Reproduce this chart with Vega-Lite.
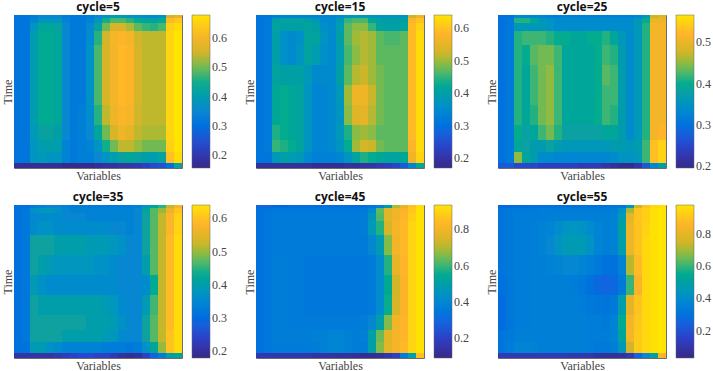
{"$schema":"https://vega.github.io/schema/vega-lite/v6.json","padding":0,"background":"white","bounds":"flush","spacing":{"row":37,"column":74},"columns":3,"resolve":{"scale":{"color":"independent"}},"config":{"view":{"stroke":"#6b6b6b","strokeWidth":1},"title":{"font":"Open Sans","fontSize":12,"fontWeight":"bold","color":"#111","offset":1},"axis":{"labels":false,"ticks":false,"domain":false,"grid":false,"titleFont":"Liberation Serif","titleFontSize":12,"titleFontWeight":"normal","titleColor":"#444"},"axisX":{"titlePadding":2},"axisY":{"titlePadding":0},"legend":{"orient":"right","offset":10,"gradientLength":153,"gradientThickness":18,"labelFont":"Liberation Serif","labelFontSize":12,"labelColor":"#444","title":null,"gradientStrokeColor":"#666","gradientStrokeWidth":0.5,"labelOffset":6}},"datasets":{"rows":[{"r":1,"t":0,"u":3},{"r":2,"t":3,"u":8},{"r":3,"t":8,"u":16},{"r":4,"t":16,"u":30},{"r":5,"t":30,"u":50},{"r":6,"t":50,"u":70},{"r":7,"t":70,"u":90},{"r":8,"t":90,"u":110},{"r":9,"t":110,"u":125},{"r":10,"t":125,"u":137},{"r":11,"t":137,"u":148},{"r":12,"t":148,"u":153}]},"concat":[{"title":"cycle=5","width":168,"height":153,"data":{"values":[
{"x":1,"y":1,"v":0.31},{"x":2,"y":1,"v":0.31},{"x":3,"y":1,"v":0.33},{"x":4,"y":1,"v":0.35},{"x":5,"y":1,"v":0.35},{"x":6,"y":1,"v":0.35},{"x":7,"y":1,"v":0.33},{"x":8,"y":1,"v":0.32},{"x":9,"y":1,"v":0.32},{"x":10,"y":1,"v":0.33},{"x":11,"y":1,"v":0.35},{"x":12,"y":1,"v":0.38},{"x":13,"y":1,"v":0.40},{"x":14,"y":1,"v":0.40},{"x":15,"y":1,"v":0.38},{"x":16,"y":1,"v":0.37},{"x":17,"y":1,"v":0.36},{"x":18,"y":1,"v":0.36},{"x":19,"y":1,"v":0.38},{"x":20,"y":1,"v":0.55},{"x":21,"y":1,"v":0.58},
{"x":1,"y":2,"v":0.31},{"x":2,"y":2,"v":0.31},{"x":3,"y":2,"v":0.34},{"x":4,"y":2,"v":0.38},{"x":5,"y":2,"v":0.38},{"x":6,"y":2,"v":0.38},{"x":7,"y":2,"v":0.34},{"x":8,"y":2,"v":0.32},{"x":9,"y":2,"v":0.32},{"x":10,"y":2,"v":0.34},{"x":11,"y":2,"v":0.38},{"x":12,"y":2,"v":0.45},{"x":13,"y":2,"v":0.48},{"x":14,"y":2,"v":0.48},{"x":15,"y":2,"v":0.46},{"x":16,"y":2,"v":0.44},{"x":17,"y":2,"v":0.43},{"x":18,"y":2,"v":0.42},{"x":19,"y":2,"v":0.44},{"x":20,"y":2,"v":0.62},{"x":21,"y":2,"v":0.64},
{"x":1,"y":3,"v":0.31},{"x":2,"y":3,"v":0.31},{"x":3,"y":3,"v":0.38},{"x":4,"y":3,"v":0.43},{"x":5,"y":3,"v":0.43},{"x":6,"y":3,"v":0.42},{"x":7,"y":3,"v":0.35},{"x":8,"y":3,"v":0.32},{"x":9,"y":3,"v":0.32},{"x":10,"y":3,"v":0.35},{"x":11,"y":3,"v":0.42},{"x":12,"y":3,"v":0.50},{"x":13,"y":3,"v":0.56},{"x":14,"y":3,"v":0.56},{"x":15,"y":3,"v":0.53},{"x":16,"y":3,"v":0.49},{"x":17,"y":3,"v":0.47},{"x":18,"y":3,"v":0.46},{"x":19,"y":3,"v":0.48},{"x":20,"y":3,"v":0.65},{"x":21,"y":3,"v":0.67},
{"x":1,"y":4,"v":0.31},{"x":2,"y":4,"v":0.31},{"x":3,"y":4,"v":0.40},{"x":4,"y":4,"v":0.44},{"x":5,"y":4,"v":0.44},{"x":6,"y":4,"v":0.43},{"x":7,"y":4,"v":0.35},{"x":8,"y":4,"v":0.32},{"x":9,"y":4,"v":0.32},{"x":10,"y":4,"v":0.36},{"x":11,"y":4,"v":0.46},{"x":12,"y":4,"v":0.55},{"x":13,"y":4,"v":0.60},{"x":14,"y":4,"v":0.61},{"x":15,"y":4,"v":0.60},{"x":16,"y":4,"v":0.55},{"x":17,"y":4,"v":0.54},{"x":18,"y":4,"v":0.54},{"x":19,"y":4,"v":0.54},{"x":20,"y":4,"v":0.66},{"x":21,"y":4,"v":0.68},
{"x":1,"y":5,"v":0.31},{"x":2,"y":5,"v":0.31},{"x":3,"y":5,"v":0.40},{"x":4,"y":5,"v":0.44},{"x":5,"y":5,"v":0.44},{"x":6,"y":5,"v":0.43},{"x":7,"y":5,"v":0.35},{"x":8,"y":5,"v":0.32},{"x":9,"y":5,"v":0.32},{"x":10,"y":5,"v":0.37},{"x":11,"y":5,"v":0.48},{"x":12,"y":5,"v":0.56},{"x":13,"y":5,"v":0.60},{"x":14,"y":5,"v":0.62},{"x":15,"y":5,"v":0.61},{"x":16,"y":5,"v":0.56},{"x":17,"y":5,"v":0.54},{"x":18,"y":5,"v":0.54},{"x":19,"y":5,"v":0.54},{"x":20,"y":5,"v":0.66},{"x":21,"y":5,"v":0.68},
{"x":1,"y":6,"v":0.31},{"x":2,"y":6,"v":0.31},{"x":3,"y":6,"v":0.40},{"x":4,"y":6,"v":0.44},{"x":5,"y":6,"v":0.44},{"x":6,"y":6,"v":0.43},{"x":7,"y":6,"v":0.35},{"x":8,"y":6,"v":0.32},{"x":9,"y":6,"v":0.32},{"x":10,"y":6,"v":0.37},{"x":11,"y":6,"v":0.48},{"x":12,"y":6,"v":0.56},{"x":13,"y":6,"v":0.60},{"x":14,"y":6,"v":0.62},{"x":15,"y":6,"v":0.61},{"x":16,"y":6,"v":0.56},{"x":17,"y":6,"v":0.54},{"x":18,"y":6,"v":0.54},{"x":19,"y":6,"v":0.54},{"x":20,"y":6,"v":0.66},{"x":21,"y":6,"v":0.68},
{"x":1,"y":7,"v":0.31},{"x":2,"y":7,"v":0.31},{"x":3,"y":7,"v":0.40},{"x":4,"y":7,"v":0.44},{"x":5,"y":7,"v":0.44},{"x":6,"y":7,"v":0.43},{"x":7,"y":7,"v":0.35},{"x":8,"y":7,"v":0.32},{"x":9,"y":7,"v":0.32},{"x":10,"y":7,"v":0.37},{"x":11,"y":7,"v":0.48},{"x":12,"y":7,"v":0.56},{"x":13,"y":7,"v":0.60},{"x":14,"y":7,"v":0.62},{"x":15,"y":7,"v":0.61},{"x":16,"y":7,"v":0.56},{"x":17,"y":7,"v":0.54},{"x":18,"y":7,"v":0.54},{"x":19,"y":7,"v":0.54},{"x":20,"y":7,"v":0.66},{"x":21,"y":7,"v":0.68},
{"x":1,"y":8,"v":0.31},{"x":2,"y":8,"v":0.31},{"x":3,"y":8,"v":0.40},{"x":4,"y":8,"v":0.44},{"x":5,"y":8,"v":0.44},{"x":6,"y":8,"v":0.43},{"x":7,"y":8,"v":0.35},{"x":8,"y":8,"v":0.32},{"x":9,"y":8,"v":0.33},{"x":10,"y":8,"v":0.36},{"x":11,"y":8,"v":0.46},{"x":12,"y":8,"v":0.54},{"x":13,"y":8,"v":0.59},{"x":14,"y":8,"v":0.61},{"x":15,"y":8,"v":0.60},{"x":16,"y":8,"v":0.55},{"x":17,"y":8,"v":0.54},{"x":18,"y":8,"v":0.54},{"x":19,"y":8,"v":0.54},{"x":20,"y":8,"v":0.66},{"x":21,"y":8,"v":0.68},
{"x":1,"y":9,"v":0.31},{"x":2,"y":9,"v":0.31},{"x":3,"y":9,"v":0.39},{"x":4,"y":9,"v":0.42},{"x":5,"y":9,"v":0.42},{"x":6,"y":9,"v":0.41},{"x":7,"y":9,"v":0.35},{"x":8,"y":9,"v":0.32},{"x":9,"y":9,"v":0.33},{"x":10,"y":9,"v":0.35},{"x":11,"y":9,"v":0.43},{"x":12,"y":9,"v":0.50},{"x":13,"y":9,"v":0.56},{"x":14,"y":9,"v":0.59},{"x":15,"y":9,"v":0.58},{"x":16,"y":9,"v":0.54},{"x":17,"y":9,"v":0.53},{"x":18,"y":9,"v":0.53},{"x":19,"y":9,"v":0.53},{"x":20,"y":9,"v":0.66},{"x":21,"y":9,"v":0.68},
{"x":1,"y":10,"v":0.31},{"x":2,"y":10,"v":0.31},{"x":3,"y":10,"v":0.38},{"x":4,"y":10,"v":0.40},{"x":5,"y":10,"v":0.41},{"x":6,"y":10,"v":0.40},{"x":7,"y":10,"v":0.34},{"x":8,"y":10,"v":0.32},{"x":9,"y":10,"v":0.33},{"x":10,"y":10,"v":0.34},{"x":11,"y":10,"v":0.38},{"x":12,"y":10,"v":0.45},{"x":13,"y":10,"v":0.50},{"x":14,"y":10,"v":0.54},{"x":15,"y":10,"v":0.54},{"x":16,"y":10,"v":0.52},{"x":17,"y":10,"v":0.50},{"x":18,"y":10,"v":0.50},{"x":19,"y":10,"v":0.50},{"x":20,"y":10,"v":0.65},{"x":21,"y":10,"v":0.68},
{"x":1,"y":11,"v":0.31},{"x":2,"y":11,"v":0.31},{"x":3,"y":11,"v":0.38},{"x":4,"y":11,"v":0.39},{"x":5,"y":11,"v":0.38},{"x":6,"y":11,"v":0.38},{"x":7,"y":11,"v":0.34},{"x":8,"y":11,"v":0.32},{"x":9,"y":11,"v":0.33},{"x":10,"y":11,"v":0.33},{"x":11,"y":11,"v":0.35},{"x":12,"y":11,"v":0.38},{"x":13,"y":11,"v":0.40},{"x":14,"y":11,"v":0.42},{"x":15,"y":11,"v":0.43},{"x":16,"y":11,"v":0.42},{"x":17,"y":11,"v":0.41},{"x":18,"y":11,"v":0.40},{"x":19,"y":11,"v":0.42},{"x":20,"y":11,"v":0.63},{"x":21,"y":11,"v":0.67},
{"x":1,"y":12,"v":0.17},{"x":2,"y":12,"v":0.17},{"x":3,"y":12,"v":0.17},{"x":4,"y":12,"v":0.17},{"x":5,"y":12,"v":0.17},{"x":6,"y":12,"v":0.17},{"x":7,"y":12,"v":0.16},{"x":8,"y":12,"v":0.16},{"x":9,"y":12,"v":0.16},{"x":10,"y":12,"v":0.16},{"x":11,"y":12,"v":0.17},{"x":12,"y":12,"v":0.18},{"x":13,"y":12,"v":0.18},{"x":14,"y":12,"v":0.19},{"x":15,"y":12,"v":0.19},{"x":16,"y":12,"v":0.20},{"x":17,"y":12,"v":0.22},{"x":18,"y":12,"v":0.24},{"x":19,"y":12,"v":0.25},{"x":20,"y":12,"v":0.30},{"x":21,"y":12,"v":0.42}
]},"transform":[{"lookup":"y","from":{"data":{"name":"rows"},"key":"r","fields":["t","u"]}}],"mark":{"type":"rect"},"encoding":{"x":{"field":"x","type":"ordinal","title":"Variables","scale":{"paddingInner":0,"paddingOuter":0}},"y":{"field":"t","type":"quantitative","title":"Time","scale":{"domain":[153,0],"nice":false,"zero":false}},"y2":{"field":"u"},"color":{"field":"v","type":"quantitative","scale":{"domain":[0.155,0.68],"range":["#352a87","#2c3fc5","#0f68e0","#0f88d0","#0fa0a0","#4fb868","#d0b52a","#ffb42a","#ffe400"]},"legend":{"values":[0.2,0.3,0.4,0.5,0.6]}}}},{"title":"cycle=15","width":168,"height":153,"data":{"values":[
{"x":1,"y":1,"v":0.31},{"x":2,"y":1,"v":0.31},{"x":3,"y":1,"v":0.33},{"x":4,"y":1,"v":0.34},{"x":5,"y":1,"v":0.34},{"x":6,"y":1,"v":0.34},{"x":7,"y":1,"v":0.34},{"x":8,"y":1,"v":0.34},{"x":9,"y":1,"v":0.34},{"x":10,"y":1,"v":0.34},{"x":11,"y":1,"v":0.35},{"x":12,"y":1,"v":0.37},{"x":13,"y":1,"v":0.38},{"x":14,"y":1,"v":0.38},{"x":15,"y":1,"v":0.37},{"x":16,"y":1,"v":0.37},{"x":17,"y":1,"v":0.37},{"x":18,"y":1,"v":0.37},{"x":19,"y":1,"v":0.37},{"x":20,"y":1,"v":0.52},{"x":21,"y":1,"v":0.56},
{"x":1,"y":2,"v":0.31},{"x":2,"y":2,"v":0.32},{"x":3,"y":2,"v":0.40},{"x":4,"y":2,"v":0.41},{"x":5,"y":2,"v":0.41},{"x":6,"y":2,"v":0.41},{"x":7,"y":2,"v":0.40},{"x":8,"y":2,"v":0.38},{"x":9,"y":2,"v":0.35},{"x":10,"y":2,"v":0.35},{"x":11,"y":2,"v":0.38},{"x":12,"y":2,"v":0.45},{"x":13,"y":2,"v":0.46},{"x":14,"y":2,"v":0.46},{"x":15,"y":2,"v":0.42},{"x":16,"y":2,"v":0.40},{"x":17,"y":2,"v":0.40},{"x":18,"y":2,"v":0.40},{"x":19,"y":2,"v":0.40},{"x":20,"y":2,"v":0.58},{"x":21,"y":2,"v":0.60},
{"x":1,"y":3,"v":0.31},{"x":2,"y":3,"v":0.32},{"x":3,"y":3,"v":0.41},{"x":4,"y":3,"v":0.40},{"x":5,"y":3,"v":0.40},{"x":6,"y":3,"v":0.40},{"x":7,"y":3,"v":0.41},{"x":8,"y":3,"v":0.40},{"x":9,"y":3,"v":0.36},{"x":10,"y":3,"v":0.35},{"x":11,"y":3,"v":0.39},{"x":12,"y":3,"v":0.47},{"x":13,"y":3,"v":0.49},{"x":14,"y":3,"v":0.49},{"x":15,"y":3,"v":0.45},{"x":16,"y":3,"v":0.41},{"x":17,"y":3,"v":0.40},{"x":18,"y":3,"v":0.40},{"x":19,"y":3,"v":0.41},{"x":20,"y":3,"v":0.59},{"x":21,"y":3,"v":0.62},
{"x":1,"y":4,"v":0.31},{"x":2,"y":4,"v":0.32},{"x":3,"y":4,"v":0.40},{"x":4,"y":4,"v":0.36},{"x":5,"y":4,"v":0.35},{"x":6,"y":4,"v":0.36},{"x":7,"y":4,"v":0.41},{"x":8,"y":4,"v":0.41},{"x":9,"y":4,"v":0.37},{"x":10,"y":4,"v":0.35},{"x":11,"y":4,"v":0.40},{"x":12,"y":4,"v":0.47},{"x":13,"y":4,"v":0.50},{"x":14,"y":4,"v":0.51},{"x":15,"y":4,"v":0.50},{"x":16,"y":4,"v":0.47},{"x":17,"y":4,"v":0.46},{"x":18,"y":4,"v":0.46},{"x":19,"y":4,"v":0.47},{"x":20,"y":4,"v":0.59},{"x":21,"y":4,"v":0.63},
{"x":1,"y":5,"v":0.31},{"x":2,"y":5,"v":0.32},{"x":3,"y":5,"v":0.40},{"x":4,"y":5,"v":0.36},{"x":5,"y":5,"v":0.35},{"x":6,"y":5,"v":0.37},{"x":7,"y":5,"v":0.41},{"x":8,"y":5,"v":0.39},{"x":9,"y":5,"v":0.36},{"x":10,"y":5,"v":0.35},{"x":11,"y":5,"v":0.39},{"x":12,"y":5,"v":0.46},{"x":13,"y":5,"v":0.49},{"x":14,"y":5,"v":0.51},{"x":15,"y":5,"v":0.50},{"x":16,"y":5,"v":0.47},{"x":17,"y":5,"v":0.47},{"x":18,"y":5,"v":0.47},{"x":19,"y":5,"v":0.47},{"x":20,"y":5,"v":0.59},{"x":21,"y":5,"v":0.63},
{"x":1,"y":6,"v":0.31},{"x":2,"y":6,"v":0.32},{"x":3,"y":6,"v":0.41},{"x":4,"y":6,"v":0.40},{"x":5,"y":6,"v":0.40},{"x":6,"y":6,"v":0.40},{"x":7,"y":6,"v":0.38},{"x":8,"y":6,"v":0.35},{"x":9,"y":6,"v":0.35},{"x":10,"y":6,"v":0.35},{"x":11,"y":6,"v":0.40},{"x":12,"y":6,"v":0.47},{"x":13,"y":6,"v":0.51},{"x":14,"y":6,"v":0.52},{"x":15,"y":6,"v":0.50},{"x":16,"y":6,"v":0.48},{"x":17,"y":6,"v":0.47},{"x":18,"y":6,"v":0.47},{"x":19,"y":6,"v":0.47},{"x":20,"y":6,"v":0.59},{"x":21,"y":6,"v":0.63},
{"x":1,"y":7,"v":0.31},{"x":2,"y":7,"v":0.32},{"x":3,"y":7,"v":0.42},{"x":4,"y":7,"v":0.43},{"x":5,"y":7,"v":0.42},{"x":6,"y":7,"v":0.41},{"x":7,"y":7,"v":0.37},{"x":8,"y":7,"v":0.34},{"x":9,"y":7,"v":0.34},{"x":10,"y":7,"v":0.35},{"x":11,"y":7,"v":0.38},{"x":12,"y":7,"v":0.50},{"x":13,"y":7,"v":0.56},{"x":14,"y":7,"v":0.56},{"x":15,"y":7,"v":0.52},{"x":16,"y":7,"v":0.48},{"x":17,"y":7,"v":0.47},{"x":18,"y":7,"v":0.47},{"x":19,"y":7,"v":0.47},{"x":20,"y":7,"v":0.59},{"x":21,"y":7,"v":0.63},
{"x":1,"y":8,"v":0.31},{"x":2,"y":8,"v":0.32},{"x":3,"y":8,"v":0.42},{"x":4,"y":8,"v":0.43},{"x":5,"y":8,"v":0.42},{"x":6,"y":8,"v":0.41},{"x":7,"y":8,"v":0.37},{"x":8,"y":8,"v":0.34},{"x":9,"y":8,"v":0.34},{"x":10,"y":8,"v":0.35},{"x":11,"y":8,"v":0.37},{"x":12,"y":8,"v":0.49},{"x":13,"y":8,"v":0.54},{"x":14,"y":8,"v":0.55},{"x":15,"y":8,"v":0.51},{"x":16,"y":8,"v":0.48},{"x":17,"y":8,"v":0.47},{"x":18,"y":8,"v":0.47},{"x":19,"y":8,"v":0.47},{"x":20,"y":8,"v":0.59},{"x":21,"y":8,"v":0.63},
{"x":1,"y":9,"v":0.31},{"x":2,"y":9,"v":0.32},{"x":3,"y":9,"v":0.44},{"x":4,"y":9,"v":0.43},{"x":5,"y":9,"v":0.42},{"x":6,"y":9,"v":0.41},{"x":7,"y":9,"v":0.37},{"x":8,"y":9,"v":0.34},{"x":9,"y":9,"v":0.34},{"x":10,"y":9,"v":0.35},{"x":11,"y":9,"v":0.38},{"x":12,"y":9,"v":0.44},{"x":13,"y":9,"v":0.49},{"x":14,"y":9,"v":0.50},{"x":15,"y":9,"v":0.49},{"x":16,"y":9,"v":0.47},{"x":17,"y":9,"v":0.47},{"x":18,"y":9,"v":0.47},{"x":19,"y":9,"v":0.47},{"x":20,"y":9,"v":0.59},{"x":21,"y":9,"v":0.63},
{"x":1,"y":10,"v":0.31},{"x":2,"y":10,"v":0.32},{"x":3,"y":10,"v":0.45},{"x":4,"y":10,"v":0.44},{"x":5,"y":10,"v":0.43},{"x":6,"y":10,"v":0.41},{"x":7,"y":10,"v":0.37},{"x":8,"y":10,"v":0.34},{"x":9,"y":10,"v":0.34},{"x":10,"y":10,"v":0.35},{"x":11,"y":10,"v":0.37},{"x":12,"y":10,"v":0.43},{"x":13,"y":10,"v":0.50},{"x":14,"y":10,"v":0.53},{"x":15,"y":10,"v":0.52},{"x":16,"y":10,"v":0.48},{"x":17,"y":10,"v":0.47},{"x":18,"y":10,"v":0.47},{"x":19,"y":10,"v":0.47},{"x":20,"y":10,"v":0.58},{"x":21,"y":10,"v":0.63},
{"x":1,"y":11,"v":0.31},{"x":2,"y":11,"v":0.31},{"x":3,"y":11,"v":0.38},{"x":4,"y":11,"v":0.40},{"x":5,"y":11,"v":0.39},{"x":6,"y":11,"v":0.38},{"x":7,"y":11,"v":0.35},{"x":8,"y":11,"v":0.33},{"x":9,"y":11,"v":0.33},{"x":10,"y":11,"v":0.33},{"x":11,"y":11,"v":0.34},{"x":12,"y":11,"v":0.37},{"x":13,"y":11,"v":0.41},{"x":14,"y":11,"v":0.44},{"x":15,"y":11,"v":0.43},{"x":16,"y":11,"v":0.42},{"x":17,"y":11,"v":0.41},{"x":18,"y":11,"v":0.41},{"x":19,"y":11,"v":0.42},{"x":20,"y":11,"v":0.56},{"x":21,"y":11,"v":0.62},
{"x":1,"y":12,"v":0.19},{"x":2,"y":12,"v":0.19},{"x":3,"y":12,"v":0.19},{"x":4,"y":12,"v":0.19},{"x":5,"y":12,"v":0.19},{"x":6,"y":12,"v":0.19},{"x":7,"y":12,"v":0.19},{"x":8,"y":12,"v":0.18},{"x":9,"y":12,"v":0.18},{"x":10,"y":12,"v":0.18},{"x":11,"y":12,"v":0.18},{"x":12,"y":12,"v":0.19},{"x":13,"y":12,"v":0.19},{"x":14,"y":12,"v":0.20},{"x":15,"y":12,"v":0.20},{"x":16,"y":12,"v":0.21},{"x":17,"y":12,"v":0.22},{"x":18,"y":12,"v":0.24},{"x":19,"y":12,"v":0.27},{"x":20,"y":12,"v":0.34},{"x":21,"y":12,"v":0.42}
]},"transform":[{"lookup":"y","from":{"data":{"name":"rows"},"key":"r","fields":["t","u"]}}],"mark":{"type":"rect"},"encoding":{"x":{"field":"x","type":"ordinal","title":"Variables","scale":{"paddingInner":0,"paddingOuter":0}},"y":{"field":"t","type":"quantitative","title":"Time","scale":{"domain":[153,0],"nice":false,"zero":false}},"y2":{"field":"u"},"color":{"field":"v","type":"quantitative","scale":{"domain":[0.17,0.64],"range":["#352a87","#2c3fc5","#0f68e0","#0f88d0","#0fa0a0","#4fb868","#d0b52a","#ffb42a","#ffe400"]},"legend":{"values":[0.2,0.3,0.4,0.5,0.6]}}}},{"title":"cycle=25","width":168,"height":153,"data":{"values":[
{"x":1,"y":1,"v":0.30},{"x":2,"y":1,"v":0.30},{"x":3,"y":1,"v":0.33},{"x":4,"y":1,"v":0.33},{"x":5,"y":1,"v":0.33},{"x":6,"y":1,"v":0.33},{"x":7,"y":1,"v":0.32},{"x":8,"y":1,"v":0.32},{"x":9,"y":1,"v":0.32},{"x":10,"y":1,"v":0.32},{"x":11,"y":1,"v":0.32},{"x":12,"y":1,"v":0.32},{"x":13,"y":1,"v":0.32},{"x":14,"y":1,"v":0.32},{"x":15,"y":1,"v":0.32},{"x":16,"y":1,"v":0.32},{"x":17,"y":1,"v":0.32},{"x":18,"y":1,"v":0.33},{"x":19,"y":1,"v":0.36},{"x":20,"y":1,"v":0.47},{"x":21,"y":1,"v":0.49},
{"x":1,"y":2,"v":0.30},{"x":2,"y":2,"v":0.31},{"x":3,"y":2,"v":0.41},{"x":4,"y":2,"v":0.41},{"x":5,"y":2,"v":0.39},{"x":6,"y":2,"v":0.36},{"x":7,"y":2,"v":0.35},{"x":8,"y":2,"v":0.34},{"x":9,"y":2,"v":0.34},{"x":10,"y":2,"v":0.34},{"x":11,"y":2,"v":0.34},{"x":12,"y":2,"v":0.34},{"x":13,"y":2,"v":0.34},{"x":14,"y":2,"v":0.34},{"x":15,"y":2,"v":0.34},{"x":16,"y":2,"v":0.34},{"x":17,"y":2,"v":0.34},{"x":18,"y":2,"v":0.36},{"x":19,"y":2,"v":0.40},{"x":20,"y":2,"v":0.50},{"x":21,"y":2,"v":0.50},
{"x":1,"y":3,"v":0.30},{"x":2,"y":3,"v":0.31},{"x":3,"y":3,"v":0.36},{"x":4,"y":3,"v":0.36},{"x":5,"y":3,"v":0.36},{"x":6,"y":3,"v":0.36},{"x":7,"y":3,"v":0.35},{"x":8,"y":3,"v":0.34},{"x":9,"y":3,"v":0.34},{"x":10,"y":3,"v":0.34},{"x":11,"y":3,"v":0.34},{"x":12,"y":3,"v":0.34},{"x":13,"y":3,"v":0.34},{"x":14,"y":3,"v":0.34},{"x":15,"y":3,"v":0.34},{"x":16,"y":3,"v":0.34},{"x":17,"y":3,"v":0.34},{"x":18,"y":3,"v":0.36},{"x":19,"y":3,"v":0.41},{"x":20,"y":3,"v":0.51},{"x":21,"y":3,"v":0.51},
{"x":1,"y":4,"v":0.30},{"x":2,"y":4,"v":0.31},{"x":3,"y":4,"v":0.41},{"x":4,"y":4,"v":0.42},{"x":5,"y":4,"v":0.42},{"x":6,"y":4,"v":0.42},{"x":7,"y":4,"v":0.41},{"x":8,"y":4,"v":0.40},{"x":9,"y":4,"v":0.40},{"x":10,"y":4,"v":0.39},{"x":11,"y":4,"v":0.39},{"x":12,"y":4,"v":0.40},{"x":13,"y":4,"v":0.40},{"x":14,"y":4,"v":0.41},{"x":15,"y":4,"v":0.39},{"x":16,"y":4,"v":0.36},{"x":17,"y":4,"v":0.34},{"x":18,"y":4,"v":0.36},{"x":19,"y":4,"v":0.41},{"x":20,"y":4,"v":0.51},{"x":21,"y":4,"v":0.51},
{"x":1,"y":5,"v":0.30},{"x":2,"y":5,"v":0.31},{"x":3,"y":5,"v":0.41},{"x":4,"y":5,"v":0.40},{"x":5,"y":5,"v":0.43},{"x":6,"y":5,"v":0.44},{"x":7,"y":5,"v":0.44},{"x":8,"y":5,"v":0.42},{"x":9,"y":5,"v":0.39},{"x":10,"y":5,"v":0.39},{"x":11,"y":5,"v":0.39},{"x":12,"y":5,"v":0.39},{"x":13,"y":5,"v":0.40},{"x":14,"y":5,"v":0.42},{"x":15,"y":5,"v":0.41},{"x":16,"y":5,"v":0.37},{"x":17,"y":5,"v":0.34},{"x":18,"y":5,"v":0.36},{"x":19,"y":5,"v":0.41},{"x":20,"y":5,"v":0.51},{"x":21,"y":5,"v":0.51},
{"x":1,"y":6,"v":0.30},{"x":2,"y":6,"v":0.31},{"x":3,"y":6,"v":0.41},{"x":4,"y":6,"v":0.39},{"x":5,"y":6,"v":0.42},{"x":6,"y":6,"v":0.44},{"x":7,"y":6,"v":0.45},{"x":8,"y":6,"v":0.42},{"x":9,"y":6,"v":0.39},{"x":10,"y":6,"v":0.39},{"x":11,"y":6,"v":0.39},{"x":12,"y":6,"v":0.39},{"x":13,"y":6,"v":0.40},{"x":14,"y":6,"v":0.43},{"x":15,"y":6,"v":0.42},{"x":16,"y":6,"v":0.37},{"x":17,"y":6,"v":0.34},{"x":18,"y":6,"v":0.36},{"x":19,"y":6,"v":0.41},{"x":20,"y":6,"v":0.51},{"x":21,"y":6,"v":0.51},
{"x":1,"y":7,"v":0.30},{"x":2,"y":7,"v":0.31},{"x":3,"y":7,"v":0.41},{"x":4,"y":7,"v":0.39},{"x":5,"y":7,"v":0.42},{"x":6,"y":7,"v":0.44},{"x":7,"y":7,"v":0.45},{"x":8,"y":7,"v":0.42},{"x":9,"y":7,"v":0.39},{"x":10,"y":7,"v":0.39},{"x":11,"y":7,"v":0.39},{"x":12,"y":7,"v":0.39},{"x":13,"y":7,"v":0.40},{"x":14,"y":7,"v":0.42},{"x":15,"y":7,"v":0.42},{"x":16,"y":7,"v":0.37},{"x":17,"y":7,"v":0.34},{"x":18,"y":7,"v":0.36},{"x":19,"y":7,"v":0.41},{"x":20,"y":7,"v":0.51},{"x":21,"y":7,"v":0.51},
{"x":1,"y":8,"v":0.30},{"x":2,"y":8,"v":0.31},{"x":3,"y":8,"v":0.41},{"x":4,"y":8,"v":0.39},{"x":5,"y":8,"v":0.41},{"x":6,"y":8,"v":0.44},{"x":7,"y":8,"v":0.45},{"x":8,"y":8,"v":0.42},{"x":9,"y":8,"v":0.39},{"x":10,"y":8,"v":0.39},{"x":11,"y":8,"v":0.39},{"x":12,"y":8,"v":0.39},{"x":13,"y":8,"v":0.40},{"x":14,"y":8,"v":0.42},{"x":15,"y":8,"v":0.41},{"x":16,"y":8,"v":0.37},{"x":17,"y":8,"v":0.34},{"x":18,"y":8,"v":0.36},{"x":19,"y":8,"v":0.41},{"x":20,"y":8,"v":0.51},{"x":21,"y":8,"v":0.51},
{"x":1,"y":9,"v":0.30},{"x":2,"y":9,"v":0.31},{"x":3,"y":9,"v":0.40},{"x":4,"y":9,"v":0.38},{"x":5,"y":9,"v":0.39},{"x":6,"y":9,"v":0.42},{"x":7,"y":9,"v":0.44},{"x":8,"y":9,"v":0.41},{"x":9,"y":9,"v":0.38},{"x":10,"y":9,"v":0.38},{"x":11,"y":9,"v":0.38},{"x":12,"y":9,"v":0.38},{"x":13,"y":9,"v":0.38},{"x":14,"y":9,"v":0.39},{"x":15,"y":9,"v":0.39},{"x":16,"y":9,"v":0.37},{"x":17,"y":9,"v":0.34},{"x":18,"y":9,"v":0.36},{"x":19,"y":9,"v":0.41},{"x":20,"y":9,"v":0.51},{"x":21,"y":9,"v":0.52},
{"x":1,"y":10,"v":0.30},{"x":2,"y":10,"v":0.31},{"x":3,"y":10,"v":0.39},{"x":4,"y":10,"v":0.38},{"x":5,"y":10,"v":0.37},{"x":6,"y":10,"v":0.37},{"x":7,"y":10,"v":0.38},{"x":8,"y":10,"v":0.37},{"x":9,"y":10,"v":0.36},{"x":10,"y":10,"v":0.36},{"x":11,"y":10,"v":0.36},{"x":12,"y":10,"v":0.36},{"x":13,"y":10,"v":0.36},{"x":14,"y":10,"v":0.36},{"x":15,"y":10,"v":0.37},{"x":16,"y":10,"v":0.37},{"x":17,"y":10,"v":0.36},{"x":18,"y":10,"v":0.37},{"x":19,"y":10,"v":0.42},{"x":20,"y":10,"v":0.53},{"x":21,"y":10,"v":0.55},
{"x":1,"y":11,"v":0.30},{"x":2,"y":11,"v":0.31},{"x":3,"y":11,"v":0.45},{"x":4,"y":11,"v":0.39},{"x":5,"y":11,"v":0.37},{"x":6,"y":11,"v":0.34},{"x":7,"y":11,"v":0.34},{"x":8,"y":11,"v":0.33},{"x":9,"y":11,"v":0.33},{"x":10,"y":11,"v":0.33},{"x":11,"y":11,"v":0.33},{"x":12,"y":11,"v":0.33},{"x":13,"y":11,"v":0.33},{"x":14,"y":11,"v":0.33},{"x":15,"y":11,"v":0.34},{"x":16,"y":11,"v":0.35},{"x":17,"y":11,"v":0.35},{"x":18,"y":11,"v":0.36},{"x":19,"y":11,"v":0.42},{"x":20,"y":11,"v":0.53},{"x":21,"y":11,"v":0.55},
{"x":1,"y":12,"v":0.27},{"x":2,"y":12,"v":0.27},{"x":3,"y":12,"v":0.25},{"x":4,"y":12,"v":0.25},{"x":5,"y":12,"v":0.25},{"x":6,"y":12,"v":0.24},{"x":7,"y":12,"v":0.24},{"x":8,"y":12,"v":0.24},{"x":9,"y":12,"v":0.24},{"x":10,"y":12,"v":0.24},{"x":11,"y":12,"v":0.23},{"x":12,"y":12,"v":0.23},{"x":13,"y":12,"v":0.23},{"x":14,"y":12,"v":0.22},{"x":15,"y":12,"v":0.21},{"x":16,"y":12,"v":0.20},{"x":17,"y":12,"v":0.20},{"x":18,"y":12,"v":0.22},{"x":19,"y":12,"v":0.27},{"x":20,"y":12,"v":0.33},{"x":21,"y":12,"v":0.37}
]},"transform":[{"lookup":"y","from":{"data":{"name":"rows"},"key":"r","fields":["t","u"]}}],"mark":{"type":"rect"},"encoding":{"x":{"field":"x","type":"ordinal","title":"Variables","scale":{"paddingInner":0,"paddingOuter":0}},"y":{"field":"t","type":"quantitative","title":"Time","scale":{"domain":[153,0],"nice":false,"zero":false}},"y2":{"field":"u"},"color":{"field":"v","type":"quantitative","scale":{"domain":[0.194,0.567],"range":["#352a87","#2c3fc5","#0f68e0","#0f88d0","#0fa0a0","#4fb868","#d0b52a","#ffb42a","#ffe400"]},"legend":{"values":[0.2,0.3,0.4,0.5]}}}},{"title":"cycle=35","width":168,"height":153,"data":{"values":[
{"x":1,"y":1,"v":0.31},{"x":2,"y":1,"v":0.31},{"x":3,"y":1,"v":0.33},{"x":4,"y":1,"v":0.34},{"x":5,"y":1,"v":0.35},{"x":6,"y":1,"v":0.35},{"x":7,"y":1,"v":0.34},{"x":8,"y":1,"v":0.33},{"x":9,"y":1,"v":0.33},{"x":10,"y":1,"v":0.33},{"x":11,"y":1,"v":0.33},{"x":12,"y":1,"v":0.33},{"x":13,"y":1,"v":0.33},{"x":14,"y":1,"v":0.33},{"x":15,"y":1,"v":0.33},{"x":16,"y":1,"v":0.34},{"x":17,"y":1,"v":0.38},{"x":18,"y":1,"v":0.42},{"x":19,"y":1,"v":0.45},{"x":20,"y":1,"v":0.52},{"x":21,"y":1,"v":0.57},
{"x":1,"y":2,"v":0.31},{"x":2,"y":2,"v":0.32},{"x":3,"y":2,"v":0.37},{"x":4,"y":2,"v":0.38},{"x":5,"y":2,"v":0.38},{"x":6,"y":2,"v":0.37},{"x":7,"y":2,"v":0.35},{"x":8,"y":2,"v":0.34},{"x":9,"y":2,"v":0.34},{"x":10,"y":2,"v":0.34},{"x":11,"y":2,"v":0.34},{"x":12,"y":2,"v":0.34},{"x":13,"y":2,"v":0.34},{"x":14,"y":2,"v":0.34},{"x":15,"y":2,"v":0.34},{"x":16,"y":2,"v":0.35},{"x":17,"y":2,"v":0.42},{"x":18,"y":2,"v":0.47},{"x":19,"y":2,"v":0.50},{"x":20,"y":2,"v":0.56},{"x":21,"y":2,"v":0.60},
{"x":1,"y":3,"v":0.31},{"x":2,"y":3,"v":0.32},{"x":3,"y":3,"v":0.35},{"x":4,"y":3,"v":0.36},{"x":5,"y":3,"v":0.36},{"x":6,"y":3,"v":0.36},{"x":7,"y":3,"v":0.35},{"x":8,"y":3,"v":0.35},{"x":9,"y":3,"v":0.35},{"x":10,"y":3,"v":0.34},{"x":11,"y":3,"v":0.34},{"x":12,"y":3,"v":0.34},{"x":13,"y":3,"v":0.34},{"x":14,"y":3,"v":0.34},{"x":15,"y":3,"v":0.34},{"x":16,"y":3,"v":0.35},{"x":17,"y":3,"v":0.41},{"x":18,"y":3,"v":0.47},{"x":19,"y":3,"v":0.52},{"x":20,"y":3,"v":0.58},{"x":21,"y":3,"v":0.62},
{"x":1,"y":4,"v":0.31},{"x":2,"y":4,"v":0.32},{"x":3,"y":4,"v":0.36},{"x":4,"y":4,"v":0.37},{"x":5,"y":4,"v":0.37},{"x":6,"y":4,"v":0.36},{"x":7,"y":4,"v":0.36},{"x":8,"y":4,"v":0.36},{"x":9,"y":4,"v":0.36},{"x":10,"y":4,"v":0.36},{"x":11,"y":4,"v":0.36},{"x":12,"y":4,"v":0.36},{"x":13,"y":4,"v":0.35},{"x":14,"y":4,"v":0.35},{"x":15,"y":4,"v":0.34},{"x":16,"y":4,"v":0.35},{"x":17,"y":4,"v":0.41},{"x":18,"y":4,"v":0.47},{"x":19,"y":4,"v":0.52},{"x":20,"y":4,"v":0.58},{"x":21,"y":4,"v":0.62},
{"x":1,"y":5,"v":0.31},{"x":2,"y":5,"v":0.32},{"x":3,"y":5,"v":0.41},{"x":4,"y":5,"v":0.41},{"x":5,"y":5,"v":0.41},{"x":6,"y":5,"v":0.40},{"x":7,"y":5,"v":0.40},{"x":8,"y":5,"v":0.40},{"x":9,"y":5,"v":0.40},{"x":10,"y":5,"v":0.39},{"x":11,"y":5,"v":0.39},{"x":12,"y":5,"v":0.39},{"x":13,"y":5,"v":0.38},{"x":14,"y":5,"v":0.37},{"x":15,"y":5,"v":0.35},{"x":16,"y":5,"v":0.35},{"x":17,"y":5,"v":0.41},{"x":18,"y":5,"v":0.47},{"x":19,"y":5,"v":0.52},{"x":20,"y":5,"v":0.59},{"x":21,"y":5,"v":0.63},
{"x":1,"y":6,"v":0.31},{"x":2,"y":6,"v":0.32},{"x":3,"y":6,"v":0.41},{"x":4,"y":6,"v":0.40},{"x":5,"y":6,"v":0.39},{"x":6,"y":6,"v":0.38},{"x":7,"y":6,"v":0.38},{"x":8,"y":6,"v":0.38},{"x":9,"y":6,"v":0.38},{"x":10,"y":6,"v":0.38},{"x":11,"y":6,"v":0.37},{"x":12,"y":6,"v":0.37},{"x":13,"y":6,"v":0.36},{"x":14,"y":6,"v":0.35},{"x":15,"y":6,"v":0.35},{"x":16,"y":6,"v":0.35},{"x":17,"y":6,"v":0.40},{"x":18,"y":6,"v":0.47},{"x":19,"y":6,"v":0.52},{"x":20,"y":6,"v":0.59},{"x":21,"y":6,"v":0.63},
{"x":1,"y":7,"v":0.31},{"x":2,"y":7,"v":0.32},{"x":3,"y":7,"v":0.39},{"x":4,"y":7,"v":0.37},{"x":5,"y":7,"v":0.36},{"x":6,"y":7,"v":0.36},{"x":7,"y":7,"v":0.36},{"x":8,"y":7,"v":0.36},{"x":9,"y":7,"v":0.36},{"x":10,"y":7,"v":0.36},{"x":11,"y":7,"v":0.36},{"x":12,"y":7,"v":0.36},{"x":13,"y":7,"v":0.36},{"x":14,"y":7,"v":0.35},{"x":15,"y":7,"v":0.35},{"x":16,"y":7,"v":0.35},{"x":17,"y":7,"v":0.36},{"x":18,"y":7,"v":0.43},{"x":19,"y":7,"v":0.52},{"x":20,"y":7,"v":0.59},{"x":21,"y":7,"v":0.63},
{"x":1,"y":8,"v":0.31},{"x":2,"y":8,"v":0.32},{"x":3,"y":8,"v":0.41},{"x":4,"y":8,"v":0.40},{"x":5,"y":8,"v":0.40},{"x":6,"y":8,"v":0.40},{"x":7,"y":8,"v":0.40},{"x":8,"y":8,"v":0.40},{"x":9,"y":8,"v":0.40},{"x":10,"y":8,"v":0.40},{"x":11,"y":8,"v":0.40},{"x":12,"y":8,"v":0.39},{"x":13,"y":8,"v":0.38},{"x":14,"y":8,"v":0.36},{"x":15,"y":8,"v":0.35},{"x":16,"y":8,"v":0.35},{"x":17,"y":8,"v":0.39},{"x":18,"y":8,"v":0.46},{"x":19,"y":8,"v":0.52},{"x":20,"y":8,"v":0.59},{"x":21,"y":8,"v":0.63},
{"x":1,"y":9,"v":0.31},{"x":2,"y":9,"v":0.32},{"x":3,"y":9,"v":0.41},{"x":4,"y":9,"v":0.41},{"x":5,"y":9,"v":0.41},{"x":6,"y":9,"v":0.41},{"x":7,"y":9,"v":0.41},{"x":8,"y":9,"v":0.41},{"x":9,"y":9,"v":0.41},{"x":10,"y":9,"v":0.40},{"x":11,"y":9,"v":0.40},{"x":12,"y":9,"v":0.40},{"x":13,"y":9,"v":0.39},{"x":14,"y":9,"v":0.37},{"x":15,"y":9,"v":0.35},{"x":16,"y":9,"v":0.35},{"x":17,"y":9,"v":0.41},{"x":18,"y":9,"v":0.47},{"x":19,"y":9,"v":0.52},{"x":20,"y":9,"v":0.59},{"x":21,"y":9,"v":0.63},
{"x":1,"y":10,"v":0.31},{"x":2,"y":10,"v":0.32},{"x":3,"y":10,"v":0.41},{"x":4,"y":10,"v":0.41},{"x":5,"y":10,"v":0.41},{"x":6,"y":10,"v":0.41},{"x":7,"y":10,"v":0.40},{"x":8,"y":10,"v":0.40},{"x":9,"y":10,"v":0.40},{"x":10,"y":10,"v":0.40},{"x":11,"y":10,"v":0.40},{"x":12,"y":10,"v":0.39},{"x":13,"y":10,"v":0.38},{"x":14,"y":10,"v":0.36},{"x":15,"y":10,"v":0.35},{"x":16,"y":10,"v":0.35},{"x":17,"y":10,"v":0.41},{"x":18,"y":10,"v":0.47},{"x":19,"y":10,"v":0.52},{"x":20,"y":10,"v":0.60},{"x":21,"y":10,"v":0.63},
{"x":1,"y":11,"v":0.31},{"x":2,"y":11,"v":0.31},{"x":3,"y":11,"v":0.39},{"x":4,"y":11,"v":0.39},{"x":5,"y":11,"v":0.37},{"x":6,"y":11,"v":0.36},{"x":7,"y":11,"v":0.34},{"x":8,"y":11,"v":0.34},{"x":9,"y":11,"v":0.34},{"x":10,"y":11,"v":0.34},{"x":11,"y":11,"v":0.34},{"x":12,"y":11,"v":0.33},{"x":13,"y":11,"v":0.33},{"x":14,"y":11,"v":0.33},{"x":15,"y":11,"v":0.32},{"x":16,"y":11,"v":0.33},{"x":17,"y":11,"v":0.37},{"x":18,"y":11,"v":0.42},{"x":19,"y":11,"v":0.50},{"x":20,"y":11,"v":0.60},{"x":21,"y":11,"v":0.63},
{"x":1,"y":12,"v":0.21},{"x":2,"y":12,"v":0.21},{"x":3,"y":12,"v":0.21},{"x":4,"y":12,"v":0.21},{"x":5,"y":12,"v":0.21},{"x":6,"y":12,"v":0.22},{"x":7,"y":12,"v":0.23},{"x":8,"y":12,"v":0.24},{"x":9,"y":12,"v":0.25},{"x":10,"y":12,"v":0.25},{"x":11,"y":12,"v":0.24},{"x":12,"y":12,"v":0.24},{"x":13,"y":12,"v":0.22},{"x":14,"y":12,"v":0.20},{"x":15,"y":12,"v":0.19},{"x":16,"y":12,"v":0.20},{"x":17,"y":12,"v":0.24},{"x":18,"y":12,"v":0.29},{"x":19,"y":12,"v":0.33},{"x":20,"y":12,"v":0.40},{"x":21,"y":12,"v":0.42}
]},"transform":[{"lookup":"y","from":{"data":{"name":"rows"},"key":"r","fields":["t","u"]}}],"mark":{"type":"rect"},"encoding":{"x":{"field":"x","type":"ordinal","title":"Variables","scale":{"paddingInner":0,"paddingOuter":0}},"y":{"field":"t","type":"quantitative","title":"Time","scale":{"domain":[153,0],"nice":false,"zero":false}},"y2":{"field":"u"},"color":{"field":"v","type":"quantitative","scale":{"domain":[0.18,0.64],"range":["#352a87","#2c3fc5","#0f68e0","#0f88d0","#0fa0a0","#4fb868","#d0b52a","#ffb42a","#ffe400"]},"legend":{"values":[0.2,0.3,0.4,0.5,0.6]}}}},{"title":"cycle=45","width":168,"height":153,"data":{"values":[
{"x":1,"y":1,"v":0.30},{"x":2,"y":1,"v":0.30},{"x":3,"y":1,"v":0.31},{"x":4,"y":1,"v":0.31},{"x":5,"y":1,"v":0.32},{"x":6,"y":1,"v":0.32},{"x":7,"y":1,"v":0.32},{"x":8,"y":1,"v":0.32},{"x":9,"y":1,"v":0.32},{"x":10,"y":1,"v":0.32},{"x":11,"y":1,"v":0.32},{"x":12,"y":1,"v":0.32},{"x":13,"y":1,"v":0.32},{"x":14,"y":1,"v":0.33},{"x":15,"y":1,"v":0.34},{"x":16,"y":1,"v":0.38},{"x":17,"y":1,"v":0.50},{"x":18,"y":1,"v":0.70},{"x":19,"y":1,"v":0.78},{"x":20,"y":1,"v":0.86},{"x":21,"y":1,"v":0.92},
{"x":1,"y":2,"v":0.33},{"x":2,"y":2,"v":0.34},{"x":3,"y":2,"v":0.35},{"x":4,"y":2,"v":0.35},{"x":5,"y":2,"v":0.35},{"x":6,"y":2,"v":0.35},{"x":7,"y":2,"v":0.35},{"x":8,"y":2,"v":0.35},{"x":9,"y":2,"v":0.35},{"x":10,"y":2,"v":0.35},{"x":11,"y":2,"v":0.35},{"x":12,"y":2,"v":0.35},{"x":13,"y":2,"v":0.35},{"x":14,"y":2,"v":0.36},{"x":15,"y":2,"v":0.41},{"x":16,"y":2,"v":0.63},{"x":17,"y":2,"v":0.76},{"x":18,"y":2,"v":0.80},{"x":19,"y":2,"v":0.82},{"x":20,"y":2,"v":0.87},{"x":21,"y":2,"v":0.93},
{"x":1,"y":3,"v":0.33},{"x":2,"y":3,"v":0.35},{"x":3,"y":3,"v":0.36},{"x":4,"y":3,"v":0.36},{"x":5,"y":3,"v":0.36},{"x":6,"y":3,"v":0.36},{"x":7,"y":3,"v":0.36},{"x":8,"y":3,"v":0.36},{"x":9,"y":3,"v":0.36},{"x":10,"y":3,"v":0.36},{"x":11,"y":3,"v":0.36},{"x":12,"y":3,"v":0.36},{"x":13,"y":3,"v":0.36},{"x":14,"y":3,"v":0.37},{"x":15,"y":3,"v":0.46},{"x":16,"y":3,"v":0.62},{"x":17,"y":3,"v":0.76},{"x":18,"y":3,"v":0.80},{"x":19,"y":3,"v":0.83},{"x":20,"y":3,"v":0.89},{"x":21,"y":3,"v":0.93},
{"x":1,"y":4,"v":0.33},{"x":2,"y":4,"v":0.35},{"x":3,"y":4,"v":0.36},{"x":4,"y":4,"v":0.36},{"x":5,"y":4,"v":0.36},{"x":6,"y":4,"v":0.36},{"x":7,"y":4,"v":0.36},{"x":8,"y":4,"v":0.36},{"x":9,"y":4,"v":0.36},{"x":10,"y":4,"v":0.36},{"x":11,"y":4,"v":0.36},{"x":12,"y":4,"v":0.36},{"x":13,"y":4,"v":0.36},{"x":14,"y":4,"v":0.37},{"x":15,"y":4,"v":0.47},{"x":16,"y":4,"v":0.58},{"x":17,"y":4,"v":0.74},{"x":18,"y":4,"v":0.81},{"x":19,"y":4,"v":0.84},{"x":20,"y":4,"v":0.90},{"x":21,"y":4,"v":0.93},
{"x":1,"y":5,"v":0.33},{"x":2,"y":5,"v":0.35},{"x":3,"y":5,"v":0.36},{"x":4,"y":5,"v":0.36},{"x":5,"y":5,"v":0.36},{"x":6,"y":5,"v":0.36},{"x":7,"y":5,"v":0.36},{"x":8,"y":5,"v":0.36},{"x":9,"y":5,"v":0.36},{"x":10,"y":5,"v":0.36},{"x":11,"y":5,"v":0.36},{"x":12,"y":5,"v":0.36},{"x":13,"y":5,"v":0.36},{"x":14,"y":5,"v":0.36},{"x":15,"y":5,"v":0.40},{"x":16,"y":5,"v":0.48},{"x":17,"y":5,"v":0.66},{"x":18,"y":5,"v":0.80},{"x":19,"y":5,"v":0.84},{"x":20,"y":5,"v":0.90},{"x":21,"y":5,"v":0.93},
{"x":1,"y":6,"v":0.33},{"x":2,"y":6,"v":0.35},{"x":3,"y":6,"v":0.37},{"x":4,"y":6,"v":0.37},{"x":5,"y":6,"v":0.36},{"x":6,"y":6,"v":0.36},{"x":7,"y":6,"v":0.35},{"x":8,"y":6,"v":0.35},{"x":9,"y":6,"v":0.35},{"x":10,"y":6,"v":0.35},{"x":11,"y":6,"v":0.35},{"x":12,"y":6,"v":0.35},{"x":13,"y":6,"v":0.35},{"x":14,"y":6,"v":0.35},{"x":15,"y":6,"v":0.36},{"x":16,"y":6,"v":0.42},{"x":17,"y":6,"v":0.58},{"x":18,"y":6,"v":0.78},{"x":19,"y":6,"v":0.83},{"x":20,"y":6,"v":0.90},{"x":21,"y":6,"v":0.93},
{"x":1,"y":7,"v":0.33},{"x":2,"y":7,"v":0.35},{"x":3,"y":7,"v":0.37},{"x":4,"y":7,"v":0.37},{"x":5,"y":7,"v":0.36},{"x":6,"y":7,"v":0.36},{"x":7,"y":7,"v":0.35},{"x":8,"y":7,"v":0.35},{"x":9,"y":7,"v":0.35},{"x":10,"y":7,"v":0.35},{"x":11,"y":7,"v":0.35},{"x":12,"y":7,"v":0.35},{"x":13,"y":7,"v":0.35},{"x":14,"y":7,"v":0.35},{"x":15,"y":7,"v":0.36},{"x":16,"y":7,"v":0.42},{"x":17,"y":7,"v":0.55},{"x":18,"y":7,"v":0.73},{"x":19,"y":7,"v":0.82},{"x":20,"y":7,"v":0.90},{"x":21,"y":7,"v":0.93},
{"x":1,"y":8,"v":0.33},{"x":2,"y":8,"v":0.35},{"x":3,"y":8,"v":0.37},{"x":4,"y":8,"v":0.37},{"x":5,"y":8,"v":0.36},{"x":6,"y":8,"v":0.36},{"x":7,"y":8,"v":0.35},{"x":8,"y":8,"v":0.35},{"x":9,"y":8,"v":0.35},{"x":10,"y":8,"v":0.35},{"x":11,"y":8,"v":0.35},{"x":12,"y":8,"v":0.35},{"x":13,"y":8,"v":0.35},{"x":14,"y":8,"v":0.35},{"x":15,"y":8,"v":0.36},{"x":16,"y":8,"v":0.42},{"x":17,"y":8,"v":0.56},{"x":18,"y":8,"v":0.74},{"x":19,"y":8,"v":0.82},{"x":20,"y":8,"v":0.90},{"x":21,"y":8,"v":0.93},
{"x":1,"y":9,"v":0.33},{"x":2,"y":9,"v":0.35},{"x":3,"y":9,"v":0.37},{"x":4,"y":9,"v":0.37},{"x":5,"y":9,"v":0.36},{"x":6,"y":9,"v":0.36},{"x":7,"y":9,"v":0.36},{"x":8,"y":9,"v":0.36},{"x":9,"y":9,"v":0.36},{"x":10,"y":9,"v":0.36},{"x":11,"y":9,"v":0.36},{"x":12,"y":9,"v":0.36},{"x":13,"y":9,"v":0.36},{"x":14,"y":9,"v":0.37},{"x":15,"y":9,"v":0.40},{"x":16,"y":9,"v":0.50},{"x":17,"y":9,"v":0.66},{"x":18,"y":9,"v":0.80},{"x":19,"y":9,"v":0.83},{"x":20,"y":9,"v":0.90},{"x":21,"y":9,"v":0.93},
{"x":1,"y":10,"v":0.33},{"x":2,"y":10,"v":0.35},{"x":3,"y":10,"v":0.37},{"x":4,"y":10,"v":0.37},{"x":5,"y":10,"v":0.37},{"x":6,"y":10,"v":0.37},{"x":7,"y":10,"v":0.37},{"x":8,"y":10,"v":0.38},{"x":9,"y":10,"v":0.38},{"x":10,"y":10,"v":0.39},{"x":11,"y":10,"v":0.39},{"x":12,"y":10,"v":0.38},{"x":13,"y":10,"v":0.37},{"x":14,"y":10,"v":0.38},{"x":15,"y":10,"v":0.50},{"x":16,"y":10,"v":0.64},{"x":17,"y":10,"v":0.76},{"x":18,"y":10,"v":0.81},{"x":19,"y":10,"v":0.83},{"x":20,"y":10,"v":0.90},{"x":21,"y":10,"v":0.93},
{"x":1,"y":11,"v":0.33},{"x":2,"y":11,"v":0.35},{"x":3,"y":11,"v":0.36},{"x":4,"y":11,"v":0.36},{"x":5,"y":11,"v":0.36},{"x":6,"y":11,"v":0.36},{"x":7,"y":11,"v":0.36},{"x":8,"y":11,"v":0.37},{"x":9,"y":11,"v":0.38},{"x":10,"y":11,"v":0.39},{"x":11,"y":11,"v":0.39},{"x":12,"y":11,"v":0.38},{"x":13,"y":11,"v":0.37},{"x":14,"y":11,"v":0.37},{"x":15,"y":11,"v":0.50},{"x":16,"y":11,"v":0.66},{"x":17,"y":11,"v":0.77},{"x":18,"y":11,"v":0.81},{"x":19,"y":11,"v":0.84},{"x":20,"y":11,"v":0.90},{"x":21,"y":11,"v":0.93},
{"x":1,"y":12,"v":0.16},{"x":2,"y":12,"v":0.16},{"x":3,"y":12,"v":0.16},{"x":4,"y":12,"v":0.16},{"x":5,"y":12,"v":0.16},{"x":6,"y":12,"v":0.16},{"x":7,"y":12,"v":0.15},{"x":8,"y":12,"v":0.14},{"x":9,"y":12,"v":0.14},{"x":10,"y":12,"v":0.14},{"x":11,"y":12,"v":0.13},{"x":12,"y":12,"v":0.13},{"x":13,"y":12,"v":0.12},{"x":14,"y":12,"v":0.11},{"x":15,"y":12,"v":0.11},{"x":16,"y":12,"v":0.12},{"x":17,"y":12,"v":0.15},{"x":18,"y":12,"v":0.20},{"x":19,"y":12,"v":0.36},{"x":20,"y":12,"v":0.50},{"x":21,"y":12,"v":0.85}
]},"transform":[{"lookup":"y","from":{"data":{"name":"rows"},"key":"r","fields":["t","u"]}}],"mark":{"type":"rect"},"encoding":{"x":{"field":"x","type":"ordinal","title":"Variables","scale":{"paddingInner":0,"paddingOuter":0}},"y":{"field":"t","type":"quantitative","title":"Time","scale":{"domain":[153,0],"nice":false,"zero":false}},"y2":{"field":"u"},"color":{"field":"v","type":"quantitative","scale":{"domain":[0.09,0.935],"range":["#352a87","#2c3fc5","#0f68e0","#0f88d0","#0fa0a0","#4fb868","#d0b52a","#ffb42a","#ffe400"]},"legend":{"values":[0.2,0.4,0.6,0.8]}}}},{"title":"cycle=55","width":168,"height":153,"data":{"values":[
{"x":1,"y":1,"v":0.28},{"x":2,"y":1,"v":0.28},{"x":3,"y":1,"v":0.29},{"x":4,"y":1,"v":0.29},{"x":5,"y":1,"v":0.30},{"x":6,"y":1,"v":0.30},{"x":7,"y":1,"v":0.30},{"x":8,"y":1,"v":0.30},{"x":9,"y":1,"v":0.30},{"x":10,"y":1,"v":0.30},{"x":11,"y":1,"v":0.30},{"x":12,"y":1,"v":0.30},{"x":13,"y":1,"v":0.30},{"x":14,"y":1,"v":0.31},{"x":15,"y":1,"v":0.31},{"x":16,"y":1,"v":0.33},{"x":17,"y":1,"v":0.45},{"x":18,"y":1,"v":0.75},{"x":19,"y":1,"v":0.90},{"x":20,"y":1,"v":0.95},{"x":21,"y":1,"v":0.97},
{"x":1,"y":2,"v":0.31},{"x":2,"y":2,"v":0.33},{"x":3,"y":2,"v":0.33},{"x":4,"y":2,"v":0.33},{"x":5,"y":2,"v":0.33},{"x":6,"y":2,"v":0.34},{"x":7,"y":2,"v":0.34},{"x":8,"y":2,"v":0.34},{"x":9,"y":2,"v":0.34},{"x":10,"y":2,"v":0.34},{"x":11,"y":2,"v":0.34},{"x":12,"y":2,"v":0.34},{"x":13,"y":2,"v":0.34},{"x":14,"y":2,"v":0.34},{"x":15,"y":2,"v":0.35},{"x":16,"y":2,"v":0.42},{"x":17,"y":2,"v":0.70},{"x":18,"y":2,"v":0.90},{"x":19,"y":2,"v":0.93},{"x":20,"y":2,"v":0.97},{"x":21,"y":2,"v":0.98},
{"x":1,"y":3,"v":0.31},{"x":2,"y":3,"v":0.33},{"x":3,"y":3,"v":0.34},{"x":4,"y":3,"v":0.34},{"x":5,"y":3,"v":0.34},{"x":6,"y":3,"v":0.34},{"x":7,"y":3,"v":0.35},{"x":8,"y":3,"v":0.35},{"x":9,"y":3,"v":0.35},{"x":10,"y":3,"v":0.35},{"x":11,"y":3,"v":0.35},{"x":12,"y":3,"v":0.35},{"x":13,"y":3,"v":0.35},{"x":14,"y":3,"v":0.35},{"x":15,"y":3,"v":0.36},{"x":16,"y":3,"v":0.46},{"x":17,"y":3,"v":0.80},{"x":18,"y":3,"v":0.90},{"x":19,"y":3,"v":0.93},{"x":20,"y":3,"v":0.97},{"x":21,"y":3,"v":0.98},
{"x":1,"y":4,"v":0.31},{"x":2,"y":4,"v":0.33},{"x":3,"y":4,"v":0.34},{"x":4,"y":4,"v":0.34},{"x":5,"y":4,"v":0.35},{"x":6,"y":4,"v":0.36},{"x":7,"y":4,"v":0.37},{"x":8,"y":4,"v":0.40},{"x":9,"y":4,"v":0.43},{"x":10,"y":4,"v":0.44},{"x":11,"y":4,"v":0.43},{"x":12,"y":4,"v":0.40},{"x":13,"y":4,"v":0.37},{"x":14,"y":4,"v":0.35},{"x":15,"y":4,"v":0.36},{"x":16,"y":4,"v":0.50},{"x":17,"y":4,"v":0.82},{"x":18,"y":4,"v":0.90},{"x":19,"y":4,"v":0.94},{"x":20,"y":4,"v":0.97},{"x":21,"y":4,"v":0.98},
{"x":1,"y":5,"v":0.31},{"x":2,"y":5,"v":0.33},{"x":3,"y":5,"v":0.34},{"x":4,"y":5,"v":0.34},{"x":5,"y":5,"v":0.35},{"x":6,"y":5,"v":0.36},{"x":7,"y":5,"v":0.38},{"x":8,"y":5,"v":0.43},{"x":9,"y":5,"v":0.46},{"x":10,"y":5,"v":0.47},{"x":11,"y":5,"v":0.46},{"x":12,"y":5,"v":0.43},{"x":13,"y":5,"v":0.37},{"x":14,"y":5,"v":0.35},{"x":15,"y":5,"v":0.36},{"x":16,"y":5,"v":0.48},{"x":17,"y":5,"v":0.82},{"x":18,"y":5,"v":0.90},{"x":19,"y":5,"v":0.95},{"x":20,"y":5,"v":0.97},{"x":21,"y":5,"v":0.98},
{"x":1,"y":6,"v":0.31},{"x":2,"y":6,"v":0.33},{"x":3,"y":6,"v":0.34},{"x":4,"y":6,"v":0.34},{"x":5,"y":6,"v":0.35},{"x":6,"y":6,"v":0.35},{"x":7,"y":6,"v":0.36},{"x":8,"y":6,"v":0.37},{"x":9,"y":6,"v":0.38},{"x":10,"y":6,"v":0.38},{"x":11,"y":6,"v":0.37},{"x":12,"y":6,"v":0.35},{"x":13,"y":6,"v":0.33},{"x":14,"y":6,"v":0.30},{"x":15,"y":6,"v":0.30},{"x":16,"y":6,"v":0.36},{"x":17,"y":6,"v":0.72},{"x":18,"y":6,"v":0.88},{"x":19,"y":6,"v":0.95},{"x":20,"y":6,"v":0.97},{"x":21,"y":6,"v":0.98},
{"x":1,"y":7,"v":0.30},{"x":2,"y":7,"v":0.32},{"x":3,"y":7,"v":0.34},{"x":4,"y":7,"v":0.34},{"x":5,"y":7,"v":0.35},{"x":6,"y":7,"v":0.35},{"x":7,"y":7,"v":0.35},{"x":8,"y":7,"v":0.35},{"x":9,"y":7,"v":0.35},{"x":10,"y":7,"v":0.34},{"x":11,"y":7,"v":0.33},{"x":12,"y":7,"v":0.30},{"x":13,"y":7,"v":0.27},{"x":14,"y":7,"v":0.26},{"x":15,"y":7,"v":0.27},{"x":16,"y":7,"v":0.33},{"x":17,"y":7,"v":0.60},{"x":18,"y":7,"v":0.85},{"x":19,"y":7,"v":0.95},{"x":20,"y":7,"v":0.97},{"x":21,"y":7,"v":0.98},
{"x":1,"y":8,"v":0.28},{"x":2,"y":8,"v":0.32},{"x":3,"y":8,"v":0.34},{"x":4,"y":8,"v":0.34},{"x":5,"y":8,"v":0.35},{"x":6,"y":8,"v":0.35},{"x":7,"y":8,"v":0.35},{"x":8,"y":8,"v":0.35},{"x":9,"y":8,"v":0.35},{"x":10,"y":8,"v":0.35},{"x":11,"y":8,"v":0.34},{"x":12,"y":8,"v":0.33},{"x":13,"y":8,"v":0.32},{"x":14,"y":8,"v":0.31},{"x":15,"y":8,"v":0.33},{"x":16,"y":8,"v":0.48},{"x":17,"y":8,"v":0.80},{"x":18,"y":8,"v":0.90},{"x":19,"y":8,"v":0.95},{"x":20,"y":8,"v":0.97},{"x":21,"y":8,"v":0.98},
{"x":1,"y":9,"v":0.28},{"x":2,"y":9,"v":0.32},{"x":3,"y":9,"v":0.34},{"x":4,"y":9,"v":0.34},{"x":5,"y":9,"v":0.35},{"x":6,"y":9,"v":0.35},{"x":7,"y":9,"v":0.35},{"x":8,"y":9,"v":0.35},{"x":9,"y":9,"v":0.35},{"x":10,"y":9,"v":0.35},{"x":11,"y":9,"v":0.35},{"x":12,"y":9,"v":0.34},{"x":13,"y":9,"v":0.34},{"x":14,"y":9,"v":0.33},{"x":15,"y":9,"v":0.36},{"x":16,"y":9,"v":0.55},{"x":17,"y":9,"v":0.84},{"x":18,"y":9,"v":0.91},{"x":19,"y":9,"v":0.95},{"x":20,"y":9,"v":0.97},{"x":21,"y":9,"v":0.98},
{"x":1,"y":10,"v":0.31},{"x":2,"y":10,"v":0.33},{"x":3,"y":10,"v":0.35},{"x":4,"y":10,"v":0.35},{"x":5,"y":10,"v":0.35},{"x":6,"y":10,"v":0.35},{"x":7,"y":10,"v":0.35},{"x":8,"y":10,"v":0.35},{"x":9,"y":10,"v":0.35},{"x":10,"y":10,"v":0.35},{"x":11,"y":10,"v":0.35},{"x":12,"y":10,"v":0.34},{"x":13,"y":10,"v":0.34},{"x":14,"y":10,"v":0.34},{"x":15,"y":10,"v":0.36},{"x":16,"y":10,"v":0.52},{"x":17,"y":10,"v":0.84},{"x":18,"y":10,"v":0.92},{"x":19,"y":10,"v":0.95},{"x":20,"y":10,"v":0.97},{"x":21,"y":10,"v":0.98},
{"x":1,"y":11,"v":0.31},{"x":2,"y":11,"v":0.34},{"x":3,"y":11,"v":0.37},{"x":4,"y":11,"v":0.37},{"x":5,"y":11,"v":0.36},{"x":6,"y":11,"v":0.35},{"x":7,"y":11,"v":0.35},{"x":8,"y":11,"v":0.35},{"x":9,"y":11,"v":0.35},{"x":10,"y":11,"v":0.35},{"x":11,"y":11,"v":0.35},{"x":12,"y":11,"v":0.34},{"x":13,"y":11,"v":0.33},{"x":14,"y":11,"v":0.33},{"x":15,"y":11,"v":0.35},{"x":16,"y":11,"v":0.45},{"x":17,"y":11,"v":0.75},{"x":18,"y":11,"v":0.92},{"x":19,"y":11,"v":0.95},{"x":20,"y":11,"v":0.97},{"x":21,"y":11,"v":0.98},
{"x":1,"y":12,"v":0.12},{"x":2,"y":12,"v":0.12},{"x":3,"y":12,"v":0.12},{"x":4,"y":12,"v":0.12},{"x":5,"y":12,"v":0.12},{"x":6,"y":12,"v":0.12},{"x":7,"y":12,"v":0.12},{"x":8,"y":12,"v":0.12},{"x":9,"y":12,"v":0.12},{"x":10,"y":12,"v":0.11},{"x":11,"y":12,"v":0.11},{"x":12,"y":12,"v":0.10},{"x":13,"y":12,"v":0.08},{"x":14,"y":12,"v":0.07},{"x":15,"y":12,"v":0.07},{"x":16,"y":12,"v":0.08},{"x":17,"y":12,"v":0.12},{"x":18,"y":12,"v":0.25},{"x":19,"y":12,"v":0.38},{"x":20,"y":12,"v":0.50},{"x":21,"y":12,"v":0.85}
]},"transform":[{"lookup":"y","from":{"data":{"name":"rows"},"key":"r","fields":["t","u"]}}],"mark":{"type":"rect"},"encoding":{"x":{"field":"x","type":"ordinal","title":"Variables","scale":{"paddingInner":0,"paddingOuter":0}},"y":{"field":"t","type":"quantitative","title":"Time","scale":{"domain":[153,0],"nice":false,"zero":false}},"y2":{"field":"u"},"color":{"field":"v","type":"quantitative","scale":{"domain":[0.03,0.98],"range":["#352a87","#2c3fc5","#0f68e0","#0f88d0","#0fa0a0","#4fb868","#d0b52a","#ffb42a","#ffe400"]},"legend":{"values":[0.2,0.4,0.6,0.8]}}}}]}
